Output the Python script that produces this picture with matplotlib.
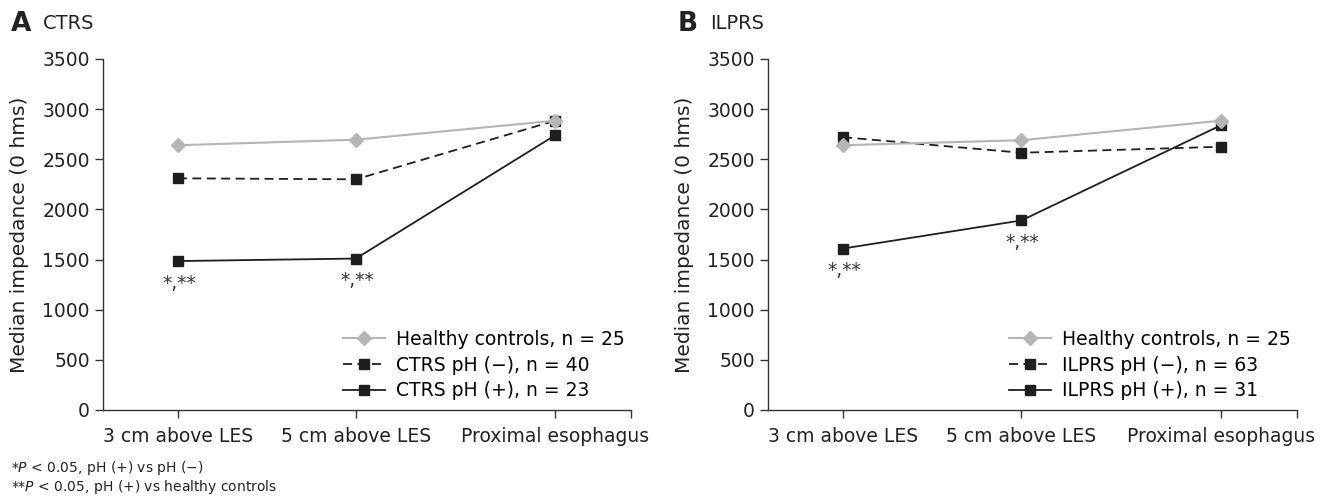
import numpy as np
import matplotlib
matplotlib.use("Agg")
import matplotlib.pyplot as plt

plt.rcParams['font.family'] = ['DejaVu Sans']

# categories along x
sites = ["3 cm above LES", "5 cm above LES", "Proximal esophagus"]
site_pos = [0, 1, 2.12]  # the original spaces the last site a bit wider

# panel A, CTRS
ctrs_healthy = [2640, 2695, 2885]
ctrs_neg = [2310, 2300, 2885]
ctrs_pos = [1485, 1510, 2740]
ctrs_labels = ["Healthy controls, n = 25", "CTRS pH (\u2212), n = 40", "CTRS pH (+), n = 23"]

# panel B, ILPRS
ilprs_healthy = [2640, 2690, 2885]
ilprs_neg = [2720, 2565, 2625]
ilprs_pos = [1610, 1890, 2840]
ilprs_labels = ["Healthy controls, n = 25", "ILPRS pH (\u2212), n = 63", "ILPRS pH (+), n = 31"]

# significance marks on the pH (+) series
star_idx = [0, 1]
star_text = "*,**"

gray = "#b5b5b5"
dark = "#1e1e1e"
fs = 13.5

fig = plt.figure(figsize=(13.37, 4.99), dpi=100)
axA = fig.add_axes([0.0770, 0.1784, 0.3949, 0.7034])
axB = fig.add_axes([0.5744, 0.1784, 0.3957, 0.7034])


def draw_panel(ax, healthy, neg, pos, labels):
    ax.plot(site_pos, healthy, color=gray, lw=1.5, marker="D", ms=7.5,
            mfc=gray, mec=gray, label=labels[0], zorder=3)
    ax.plot(site_pos, neg, color=dark, lw=1.3, ls=(0, (5, 3)), marker="s", ms=7,
            mfc=dark, mec=dark, label=labels[1], zorder=2)
    ax.plot(site_pos, pos, color=dark, lw=1.3, marker="s", ms=7,
            mfc=dark, mec=dark, label=labels[2], zorder=2)
    for i in star_idx:
        ax.annotate(star_text, (site_pos[i], pos[i]), xytext=(1, -9),
                    textcoords="offset points", ha="center", va="top",
                    fontsize=fs, color="#333333")

    ax.set_ylim(0, 3500)
    ax.set_yticks(np.arange(0, 3501, 500))
    ax.set_xlim(-0.421, 2.545)
    ax.set_xticks(site_pos)
    ax.set_xticklabels(sites)
    ax.set_xticks([2.545], minor=True)
    for s in ["top", "right"]:
        ax.spines[s].set_visible(False)
    for s in ["left", "bottom"]:
        ax.spines[s].set_color("#333333")
        ax.spines[s].set_linewidth(1.0)
    ax.tick_params(axis="both", which="both", direction="out", length=6,
                   width=1.0, color="#333333", labelsize=fs, labelcolor="#222222")
    ax.tick_params(axis="x", pad=6)
    ax.set_ylabel("Median impedance (0 hms)", fontsize=14.5, color="#222222")
    ax.yaxis.set_label_coords(-0.14, 0.5)
    ax.legend(loc="lower right", bbox_to_anchor=(1.02, -0.02), frameon=False,
              fontsize=fs, handlelength=2.2, handletextpad=0.6, labelspacing=0.35,
              numpoints=1)


draw_panel(axA, ctrs_healthy, ctrs_neg, ctrs_pos, ctrs_labels)
draw_panel(axB, ilprs_healthy, ilprs_neg, ilprs_pos, ilprs_labels)

fig.text(0.008, 0.952, "A", fontsize=19, fontweight="bold", va="center", color="#222222")
fig.text(0.032, 0.952, "CTRS", fontsize=14, va="center", color="#222222")
fig.text(0.507, 0.952, "B", fontsize=19, fontweight="bold", va="center", color="#222222")
fig.text(0.531, 0.952, "ILPRS", fontsize=14, va="center", color="#222222")

fig.text(0.008, 0.062, "*$P$ < 0.05, pH (+) vs pH (\u2212)",
         fontsize=10, va="center", color="#222222")
fig.text(0.008, 0.024, "**$P$ < 0.05, pH (+) vs healthy controls",
         fontsize=10, va="center", color="#222222")

fig.savefig("out.png", dpi=100)
